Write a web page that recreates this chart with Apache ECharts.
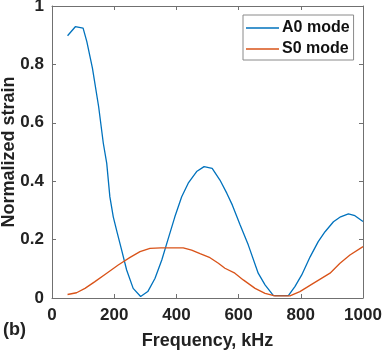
<!DOCTYPE html>
<html><head><meta charset="utf-8">
<script src="https://cdn.jsdelivr.net/npm/echarts@6/dist/echarts.min.js"></script>
<style>html,body{margin:0;padding:0;background:#fff}#c{width:382px;height:352px}</style>
</head><body><div id="c"></div>
<script>
const a0Freq = [50,75,100,112,130,150,165,176,186,197,210,224,240,261,285,308,331,353,374,395,417,438,465,489,515,540,562,580,605,631,663,685,712,760,781,803,830,856,878,905,928,953,974,1000];
const a0Vals = [0.898,0.929,0.924,0.878,0.787,0.655,0.53,0.461,0.347,0.278,0.222,0.164,0.096,0.033,0.005,0.022,0.067,0.13,0.204,0.278,0.347,0.393,0.433,0.45,0.444,0.404,0.359,0.318,0.25,0.182,0.085,0.045,0.008,0.008,0.039,0.079,0.141,0.193,0.227,0.261,0.278,0.288,0.282,0.262];
const s0Freq = [50,79,106,138,176,213,251,283,315,350,374,400,422,449,476,508,535,556,588,615,653,685,717,765,797,840,894,926,958,1000];
const s0Vals = [0.012,0.018,0.033,0.056,0.085,0.113,0.139,0.159,0.170,0.172,0.172,0.172,0.172,0.164,0.152,0.138,0.119,0.102,0.085,0.062,0.033,0.016,0.007,0.007,0.022,0.05,0.085,0.119,0.147,0.176];
const seriesNames = ['A0 mode','S0 mode'];
const xTicks = [0,200,400,600,800,1000];
const yTicks = [0,0.2,0.4,0.6,0.8,1];

const FONT = "'Liberation Sans', Arial, Helvetica, sans-serif";
const axisCol = '#707070';
const chart = echarts.init(document.getElementById('c'));
const zip = (xs, ys) => xs.map((x, i) => [x, ys[i]]);
const baseX = {
  type: 'value', min: xTicks[0], max: xTicks[xTicks.length-1], interval: 200,
  axisLine: {show: true, onZero: false, lineStyle: {color: axisCol, width: 1}},
  axisTick: {show: true, inside: true, length: 4, lineStyle: {color: axisCol}},
  splitLine: {show: false}
};
const baseY = {
  type: 'value', min: yTicks[0], max: yTicks[yTicks.length-1], interval: 0.2,
  axisLine: {show: true, onZero: false, lineStyle: {color: axisCol, width: 1}},
  axisTick: {show: true, inside: true, length: 4, lineStyle: {color: axisCol}},
  splitLine: {show: false}
};
chart.setOption({
  animation: false,
  grid: {left: 52, right: 19, top: 6, bottom: 54, containLabel: false, outerBoundsMode: 'none'},
  legend: {
    orient: 'vertical', left: 243, top: 15,
    data: seriesNames,
    icon: 'rect', itemWidth: 33, itemHeight: 1.5, itemGap: 5,
    padding: [5, 4, 3, 3],
    borderColor: '#8a8a8a', borderWidth: 1, backgroundColor: '#fff',
    textStyle: {fontFamily: FONT, fontWeight: 'bold', fontSize: 16, color: '#111', padding: [0,0,0,-2]}
  },
  xAxis: [
    Object.assign({}, baseX, {
      position: 'bottom',
      name: 'Frequency, kHz', nameLocation: 'middle', nameGap: 34,
      nameTextStyle: {fontFamily: FONT, fontWeight: 'bold', fontSize: 18, color: '#222'},
      axisLabel: {fontFamily: FONT, fontWeight: 'bold', fontSize: 17, color: '#222', margin: 9,
                  formatter: v => String(v)}
    }),
    Object.assign({}, baseX, {position: 'top', axisLabel: {show: false}})
  ],
  yAxis: [
    Object.assign({}, baseY, {
      position: 'left',
      name: 'Normalized strain', nameLocation: 'middle', nameGap: 34, nameMoveOverlap: false,
      nameTextStyle: {fontFamily: FONT, fontWeight: 'bold', fontSize: 18, color: '#222'},
      axisLabel: {fontFamily: FONT, fontWeight: 'bold', fontSize: 17, color: '#222', margin: 8,
                  formatter: v => String(+v.toFixed(1))}
    }),
    Object.assign({}, baseY, {position: 'right', axisLabel: {show: false}})
  ],
  graphic: [{
    type: 'text', left: 3, top: 321,
    style: {text: '(b)', fontFamily: FONT, fontWeight: 'bold', fontSize: 18, fill: '#222'}
  }],
  series: [
    {name: seriesNames[0], type: 'line', data: zip(a0Freq, a0Vals), showSymbol: false,
     color: '#0072BD', lineStyle: {width: 1.3, color: '#0072BD'}},
    {name: seriesNames[1], type: 'line', data: zip(s0Freq, s0Vals), showSymbol: false,
     color: '#D95319', lineStyle: {width: 1.3, color: '#D95319'}}
  ]
});
</script></body></html>
